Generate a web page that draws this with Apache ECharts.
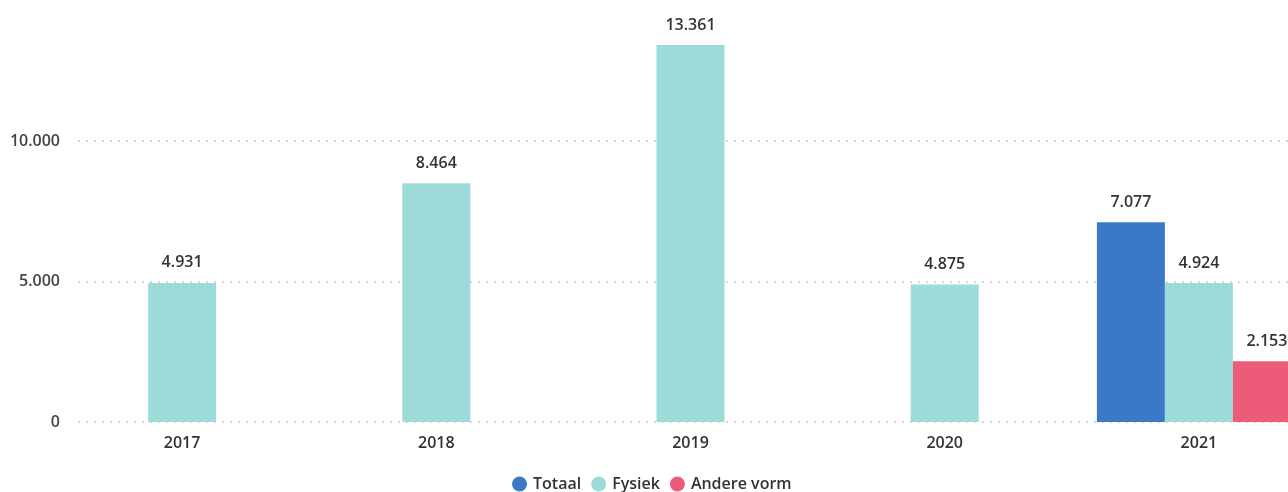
<!DOCTYPE html>
<html>
<head>
<meta charset="utf-8">
<script src="https://cdn.jsdelivr.net/npm/echarts@6/dist/echarts.min.js"></script>
<style>html,body{margin:0;padding:0;background:#fff;overflow:hidden;width:1288px;height:492px}#c{width:1326px;height:492px}</style>
</head>
<body>
<div id="c"></div>
<script>
const categories = ['2017', '2018', '2019', '2020', '2021'];
const totaal = [null, null, null, null, 7077];
const fysiek = [4931, 8464, 13361, 4875, 4924];
const andereVorm = [null, null, null, null, 2153];
const yTicks = [0, 5000, 10000];

const FONT = 'Open Sans';
const fmt = v => String(v).replace(/\B(?=(\d{3})+(?!\d))/g, '.');

const chart = echarts.init(document.getElementById('c'), null, {renderer: 'canvas'});
const labelCfg = {
  show: true, position: 'top', distance: 12,
  color: '#333', fontFamily: FONT, fontSize: 16, fontWeight: 600,
  formatter: p => p.value == null ? '' : fmt(p.value)
};
chart.setOption({
  animation: false,
  legend: {
    bottom: -5, left: 507, icon: 'circle', itemWidth: 15, itemHeight: 15, itemGap: 10,
    textStyle: {color: '#333', fontFamily: FONT, fontSize: 16, fontWeight: 600, padding: [0, 0, 0, 1]},
    data: ['Totaal', 'Fysiek', 'Andere vorm']
  },
  grid: [
    {left: 78, right: 0, top: 141, bottom: 70},
    {left: 55, right: 0, top: 27, bottom: 70}
  ],
  xAxis: [
    {type: 'category', gridIndex: 0, data: categories, show: false},
    {type: 'category', gridIndex: 1, data: categories,
     axisLine: {show: false}, axisTick: {show: false},
     axisLabel: {color: '#333', fontFamily: FONT, fontSize: 16, fontWeight: 600, margin: 13}}
  ],
  yAxis: [
    {type: 'value', gridIndex: 0, min: yTicks[0], max: yTicks[yTicks.length - 1], interval: 5000,
     axisLine: {show: false}, axisTick: {show: false},
     axisLabel: {color: '#444', fontFamily: FONT, fontSize: 16, fontWeight: 600, margin: 18, formatter: v => fmt(v)},
     splitLine: {show: true, lineStyle: {color: '#c8c8c8', type: [2, 6], width: 1.5}}},
    {type: 'value', gridIndex: 1, min: 0, max: 14000, show: false, splitLine: {show: false}}
  ],
  series: [
    {name: 'Totaal', type: 'bar', xAxisIndex: 1, yAxisIndex: 1, data: totaal, barWidth: 68, barGap: '0%',
     itemStyle: {color: '#3c78c8'}, label: labelCfg},
    {name: 'Fysiek', type: 'bar', xAxisIndex: 1, yAxisIndex: 1, data: fysiek, barWidth: 68, barGap: '0%',
     itemStyle: {color: '#9cdbd7'}, label: labelCfg},
    {name: 'Andere vorm', type: 'bar', xAxisIndex: 1, yAxisIndex: 1, data: andereVorm, barWidth: 68, barGap: '0%',
     itemStyle: {color: '#ec5c79'}, label: labelCfg}
  ]
});
</script>
</body>
</html>
